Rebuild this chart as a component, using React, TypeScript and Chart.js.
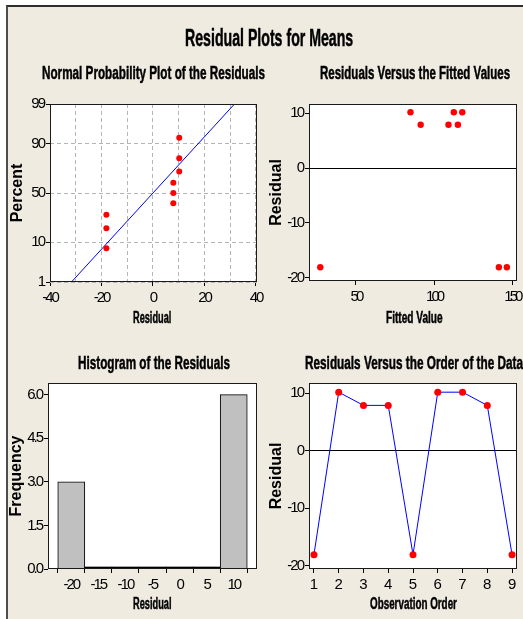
import React, { useEffect, useLayoutEffect, useRef, useState } from 'react';
import { Chart, registerables } from 'chart.js';
Chart.register(...registerables);

// ---------------- data ----------------
const observationOrder = [1, 2, 3, 4, 5, 6, 7, 8, 9];
const residuals = [-18.1, 10.2, 7.9, 7.9, -18.1, 10.2, 10.2, 7.9, -18.1];
const fittedValues = [27.2, 84.9, 91.4, 109.2, 141.4, 112.6, 118.0, 115.2, 146.5];
const normalPercents = [7.4, 17.9, 28.5, 39.4, 50.0, 60.6, 71.3, 81.9, 92.6];
const percentTicks = [1, 10, 50, 90, 99];
const residualLabelTicks = [-40, -20, 0, 20, 40];
const residualGridTicks = [-40, -30, -20, -10, 0, 10, 20, 30, 40];
const fittedTicks = [50, 100, 150];
const residualAxisTicks = [-20, -10, 0, 10];
const histBins = [-20, -15, -10, -5, 0, 5, 10];
const histFreq = [3, 0, 0, 0, 0, 0, 6];
const freqTicks = [0, 1.5, 3, 4.5, 6];

// ---------------- helpers ----------------
const W = 523;
const H = 619;
const XH = 30;
const SANS = '"Liberation Sans", Arial, sans-serif';

function probit(p: number): number {
  const a = [-3.969683028665376e1, 2.209460984245205e2, -2.759285104469687e2, 1.38357751867269e2, -3.066479806614716e1, 2.506628277459239];
  const b = [-5.447609879822406e1, 1.615858368580409e2, -1.556989798598866e2, 6.680131188771972e1, -1.328068155288572e1];
  const c = [-7.784894002430293e-3, -3.223964580411365e-1, -2.400758277161838, -2.549671010229244, 4.374664141464968, 2.938163982698783];
  const d = [7.784695709041462e-3, 3.224671290700398e-1, 2.445134137142996, 3.754408661907416];
  const pl = 0.02425;
  if (p < pl) {
    const q = Math.sqrt(-2 * Math.log(p));
    return (((((c[0] * q + c[1]) * q + c[2]) * q + c[3]) * q + c[4]) * q + c[5]) / ((((d[0] * q + d[1]) * q + d[2]) * q + d[3]) * q + 1);
  }
  if (p > 1 - pl) {
    const q = Math.sqrt(-2 * Math.log(1 - p));
    return -(((((c[0] * q + c[1]) * q + c[2]) * q + c[3]) * q + c[4]) * q + c[5]) / ((((d[0] * q + d[1]) * q + d[2]) * q + d[3]) * q + 1);
  }
  const q = p - 0.5;
  const r = q * q;
  return ((((((a[0] * r + a[1]) * r + a[2]) * r + a[3]) * r + a[4]) * r + a[5]) * q) / (((((b[0] * r + b[1]) * r + b[2]) * r + b[3]) * r + b[4]) * r + 1);
}

type Box = { l: number; t: number; r: number; b: number; yLeft: number };
const TL: Box = { l: 50, t: 104, r: 257, b: 282, yLeft: 8 };
const TR: Box = { l: 309, t: 104, r: 517, b: 281, yLeft: 267 };
const BL: Box = { l: 48, t: 383, r: 257, b: 569, yLeft: 7 };
const BR: Box = { l: 309, t: 383, r: 517, b: 569, yLeft: 267 };

function layoutFor(box: Box) {
  return { padding: { left: box.yLeft, top: box.t, right: W - box.r, bottom: H - box.b - XH } };
}

// condense tick labels (the original chart renders them squeezed together)
function squeezeLabels(scale: any, spacing: string) {
  if (scale.__squeezed) return;
  const orig = scale.drawLabels;
  scale.drawLabels = function (area: any) {
    const ctx = this.ctx;
    ctx.save();
    try {
      (ctx as any).letterSpacing = spacing;
    } catch (e) {}
    orig.call(this, area);
    ctx.restore();
  };
  scale.__squeezed = true;
}
function fixX(spacing: string) {
  return (scale: any) => {
    scale.height = XH;
    scale.paddingLeft = 0;
    scale.paddingRight = 0;
    squeezeLabels(scale, spacing);
  };
}
function fixY(box: Box) {
  return (scale: any) => {
    scale.width = box.l - box.yLeft;
    scale.paddingTop = 0;
    scale.paddingBottom = 0;
    squeezeLabels(scale, '-2px');
  };
}
function setTicks(values: number[]) {
  return (scale: any) => {
    scale.ticks = values.map((v) => ({ value: v }));
  };
}

const framePlugin = {
  id: 'frame',
  beforeDraw(chart: any) {
    const { ctx, chartArea: a } = chart;
    ctx.save();
    ctx.fillStyle = '#ffffff';
    ctx.fillRect(a.left, a.top, a.right - a.left, a.bottom - a.top);
    ctx.restore();
  },
  afterDraw(chart: any) {
    const { ctx, chartArea: a } = chart;
    ctx.save();
    ctx.strokeStyle = '#1a1a1a';
    ctx.lineWidth = 1;
    ctx.strokeRect(a.left + 0.5, a.top + 0.5, a.right - a.left - 1, a.bottom - a.top - 1);
    ctx.restore();
  },
};

const tickFont = { family: SANS, size: 15 };
const yTitle = (text: string) => ({
  display: true,
  text,
  color: '#000',
  font: { family: SANS, size: 16, weight: 'bold' as const },
  padding: { top: 0, bottom: 0 },
});
const baseOptions = (box: Box) => ({
  animation: false as const,
  responsive: false,
  devicePixelRatio: 1,
  events: [] as any[],
  layout: layoutFor(box),
  plugins: { legend: { display: false }, tooltip: { enabled: false }, title: { display: false } },
});
const zeroLineGrid = {
  color: (c: any) => (c.tick && c.tick.value === 0 ? '#000' : 'rgba(0,0,0,0)'),
  lineWidth: 1,
  tickColor: '#000',
  tickLength: 4,
};
const noGrid = { drawOnChartArea: false, tickColor: '#000', tickLength: 4 };

// ---------------- chart configs ----------------
function normalConfig(): any {
  const sorted = [...residuals].sort((p, q) => p - q);
  const n = residuals.length;
  const mean = residuals.reduce((s, v) => s + v, 0) / n;
  const sd = Math.sqrt(residuals.reduce((s, v) => s + (v - mean) ** 2, 0) / (n - 1));
  const zLo = probit(percentTicks[0] / 100);
  const zHi = probit(percentTicks[percentTicks.length - 1] / 100);
  return {
    type: 'scatter',
    data: {
      datasets: [
        {
          type: 'line',
          data: [
            { x: mean + zLo * sd, y: zLo },
            { x: mean + zHi * sd, y: zHi },
          ],
          borderColor: '#0000FF',
          borderWidth: 1,
          pointRadius: 0,
          fill: false,
          order: 2,
        },
        {
          data: sorted.map((v, i) => ({ x: v, y: probit(normalPercents[i] / 100) })),
          backgroundColor: '#FF0000',
          borderColor: '#FF0000',
          pointRadius: 3,
          pointBorderWidth: 0,
          order: 1,
        },
      ],
    },
    options: {
      ...baseOptions(TL),
      scales: {
        x: {
          type: 'linear',
          min: -40,
          max: 40.4,
          afterBuildTicks: setTicks(residualGridTicks),
          afterFit: fixX('-2px'),
          border: { display: false, dash: [4, 3] },
          grid: {
            color: '#B4B4B4',
            tickColor: (c: any) => (c.tick && residualLabelTicks.includes(c.tick.value) ? '#000' : 'rgba(0,0,0,0)'),
            tickLength: 4,
          },
          ticks: {
            autoSkip: false,
            maxRotation: 0,
            padding: 3,
            color: '#000',
            font: tickFont,
            callback: (v: number) => (residualLabelTicks.includes(v) ? String(v) : ''),
          },
        },
        y: {
          type: 'linear',
          min: zLo,
          max: zHi,
          afterBuildTicks: setTicks(percentTicks.map((p) => probit(p / 100))),
          afterFit: fixY(TL),
          border: { display: false, dash: [4, 3] },
          grid: { color: '#B4B4B4', tickColor: '#000', tickLength: 4 },
          ticks: { padding: 2, color: '#000', font: tickFont, callback: (_v: number, i: number) => String(percentTicks[i]) },
          title: yTitle('Percent'),
        },
      },
    },
    plugins: [framePlugin],
  };
}

function fittedConfig(): any {
  return {
    type: 'scatter',
    data: {
      datasets: [
        {
          data: fittedValues.map((f, i) => ({ x: f, y: residuals[i] })),
          backgroundColor: '#FF0000',
          borderColor: '#FF0000',
          pointRadius: 3.2,
          pointBorderWidth: 0,
        },
      ],
    },
    options: {
      ...baseOptions(TR),
      scales: {
        x: {
          type: 'linear',
          min: 20,
          max: 153,
          afterBuildTicks: setTicks(fittedTicks),
          afterFit: fixX('-3px'),
          border: { display: false },
          grid: noGrid,
          ticks: { autoSkip: false, maxRotation: 0, padding: 3, color: '#000', font: tickFont },
        },
        y: {
          type: 'linear',
          min: -20.6,
          max: 11.7,
          afterBuildTicks: setTicks(residualAxisTicks),
          afterFit: fixY(TR),
          border: { display: false },
          grid: zeroLineGrid,
          ticks: { padding: 2, color: '#000', font: tickFont },
          title: yTitle('Residual'),
        },
      },
    },
    plugins: [framePlugin],
  };
}

function histConfig(): any {
  return {
    type: 'bar',
    data: {
      datasets: [
        {
          data: histBins.map((b, i) => ({ x: b, y: histFreq[i] })),
          backgroundColor: (c: any) => (c.raw && c.raw.y === 0 ? '#000' : '#C0C0C0'),
          borderColor: '#000',
          borderWidth: (c: any) => (c.raw && c.raw.y === 0 ? 0 : 1),
          minBarLength: 2,
          barPercentage: 1,
          categoryPercentage: 1,
        },
      ],
    },
    options: {
      ...baseOptions(BL),
      scales: {
        x: {
          type: 'linear',
          min: -24.3,
          max: 14.3,
          offset: false,
          afterBuildTicks: setTicks(histBins),
          afterFit: fixX('-2px'),
          border: { display: false },
          grid: noGrid,
          ticks: { autoSkip: false, maxRotation: 0, padding: 3, color: '#000', font: tickFont },
        },
        y: {
          type: 'linear',
          min: 0,
          max: 6.4,
          afterBuildTicks: setTicks(freqTicks),
          afterFit: fixY(BL),
          border: { display: false },
          grid: noGrid,
          ticks: { padding: 2, color: '#000', font: tickFont, callback: (v: number) => v.toFixed(1) },
          title: yTitle('Frequency'),
        },
      },
    },
    plugins: [framePlugin],
  };
}

function orderConfig(): any {
  return {
    type: 'line',
    data: {
      datasets: [
        {
          data: observationOrder.map((o, i) => ({ x: o, y: residuals[i] })),
          borderColor: '#0000FF',
          borderWidth: 1,
          pointBackgroundColor: '#FF0000',
          pointBorderColor: '#FF0000',
          pointBorderWidth: 0,
          pointRadius: 3.5,
          fill: false,
          tension: 0,
        },
      ],
    },
    options: {
      ...baseOptions(BR),
      scales: {
        x: {
          type: 'linear',
          min: 0.8,
          max: 9.2,
          afterBuildTicks: setTicks(observationOrder),
          afterFit: fixX('0px'),
          border: { display: false },
          grid: noGrid,
          ticks: { autoSkip: false, maxRotation: 0, padding: 3, color: '#000', font: { family: SANS, size: 15 } },
        },
        y: {
          type: 'linear',
          min: -20.6,
          max: 11.8,
          afterBuildTicks: setTicks(residualAxisTicks),
          afterFit: fixY(BR),
          border: { display: false },
          grid: zeroLineGrid,
          ticks: { padding: 2, color: '#000', font: tickFont },
          title: yTitle('Residual'),
        },
      },
    },
    plugins: [framePlugin],
  };
}

// ---------------- components ----------------
function ChartLayer({ build }: { build: () => any }) {
  const ref = useRef<HTMLCanvasElement>(null);
  useEffect(() => {
    const chart = new Chart(ref.current as HTMLCanvasElement, build());
    return () => chart.destroy();
  }, []);
  return <canvas ref={ref} width={W} height={H} style={{ position: 'absolute', left: 0, top: 0, width: W, height: H }} />;
}

function Squish({ text, cx, left, capTop, width, size }: { text: string; cx?: number; left?: number; capTop: number; width: number; size: number }) {
  const ref = useRef<HTMLSpanElement>(null);
  const [scale, setScale] = useState(1);
  useLayoutEffect(() => {
    if (ref.current) {
      const w = ref.current.offsetWidth;
      if (w > 0) setScale(width / w);
    }
  }, [text, width]);
  const x0 = cx !== undefined ? cx - width / 2 : (left as number);
  return (
    <span
      ref={ref}
      style={{
        position: 'absolute',
        left: x0,
        top: capTop - 0.13 * size,
        whiteSpace: 'nowrap',
        fontFamily: SANS,
        fontWeight: 700,
        fontSize: size,
        lineHeight: 1,
        color: '#000',
        WebkitTextStroke: '0.5px #000',
        transform: `scaleX(${scale})`,
        transformOrigin: '0 0',
      }}
    >
      {text}
    </span>
  );
}

export default function App() {
  return (
    <div style={{ position: 'absolute', left: 0, top: 0, width: W, height: H, overflow: 'hidden', background: '#ffffff' }}>
      <div
        style={{
          position: 'absolute',
          left: 6,
          top: 5,
          right: 0,
          bottom: 0,
          background: '#EFEBE1',
          borderLeft: '2px solid #4d4d4d',
          borderTop: '2px solid #2e2e2e',
        }}
      />
      <ChartLayer build={normalConfig} />
      <ChartLayer build={fittedConfig} />
      <ChartLayer build={histConfig} />
      <ChartLayer build={orderConfig} />
      <Squish text="Residual Plots for Means" cx={269} capTop={29.5} width={168} size={24} />
      <Squish text="Normal Probability Plot of the Residuals" cx={153.3} capTop={66.7} width={223} size={18} />
      <Squish text="Residuals Versus the Fitted Values" cx={415} capTop={66.7} width={190} size={18} />
      <Squish text="Histogram of the Residuals" cx={153.8} capTop={356.7} width={152} size={18} />
      <Squish text="Residuals Versus the Order of the Data" left={305} capTop={356.7} width={218} size={18} />
      <Squish text="Residual" cx={152.5} capTop={311.7} width={38.5} size={16} />
      <Squish text="Fitted Value" cx={414.3} capTop={311.7} width={56.7} size={16} />
      <Squish text="Residual" cx={152.5} capTop={598} width={38.7} size={16} />
      <Squish text="Observation Order" cx={413.3} capTop={598} width={86.7} size={16} />
    </div>
  );
}
